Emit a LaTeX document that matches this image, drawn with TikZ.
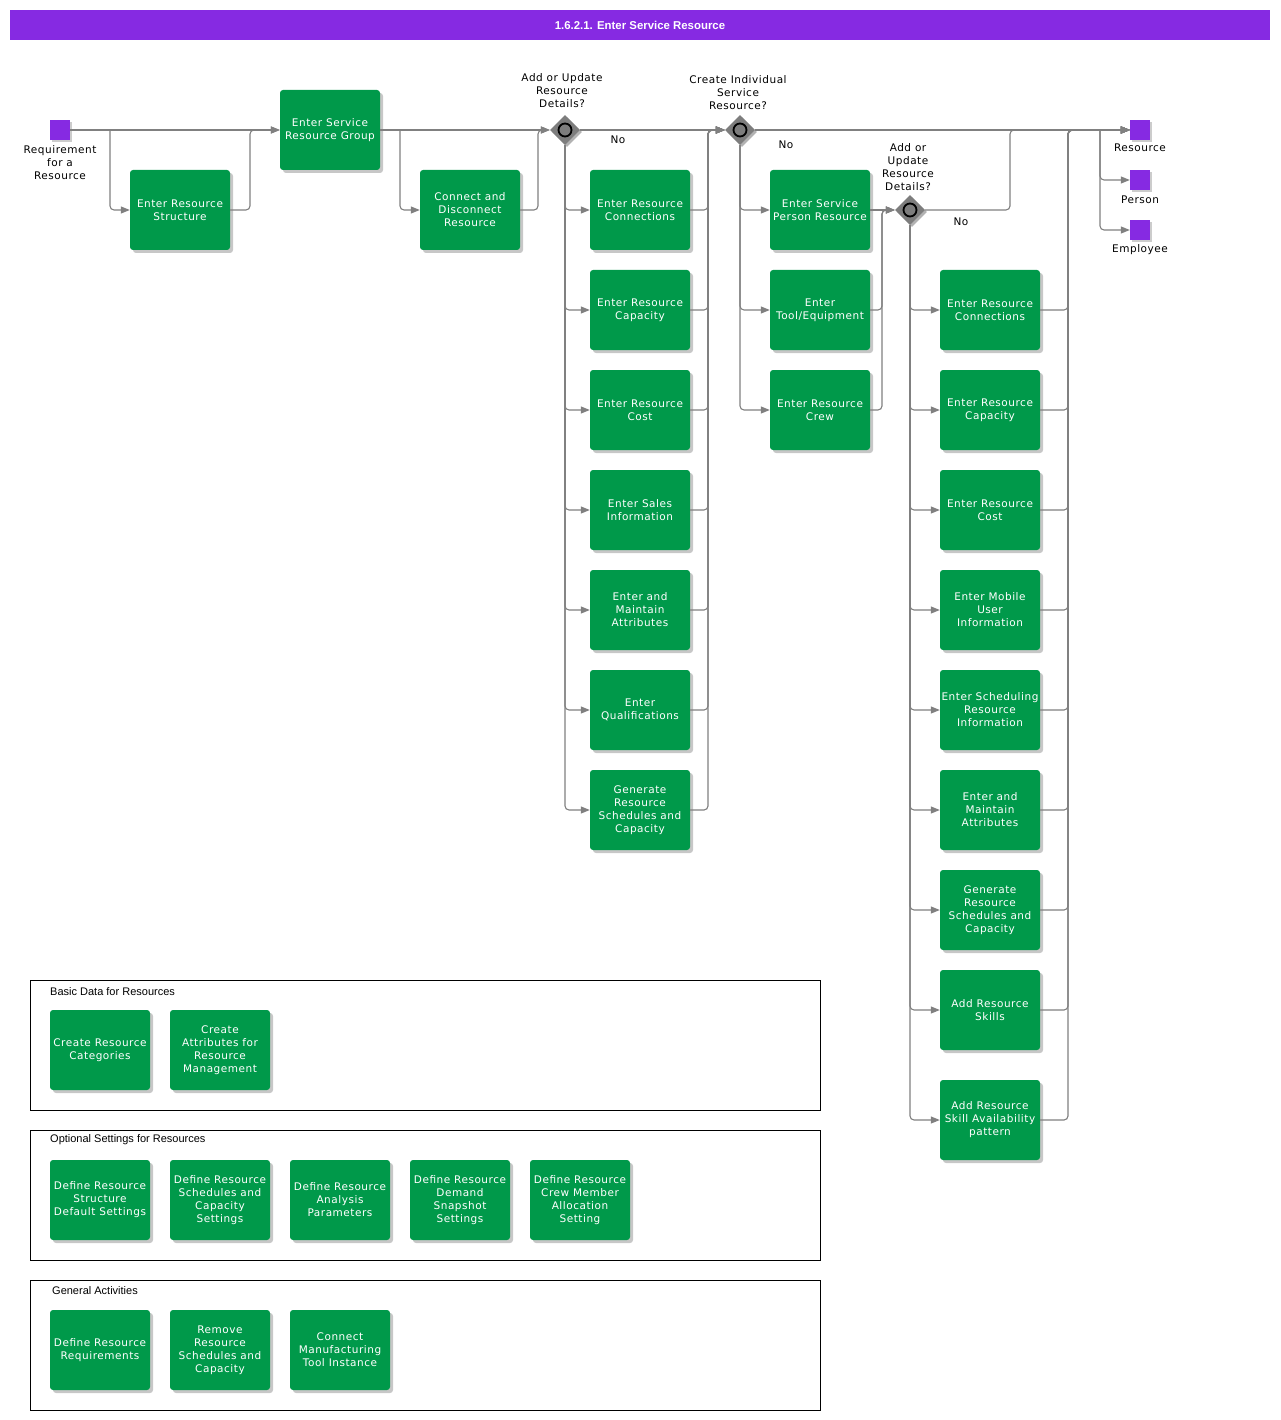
\documentclass[tikz,border=0pt]{standalone}
\usepackage{fontspec}
\setmainfont{DejaVu Sans}[LetterSpace=5]
\newfontfamily\arialf{Liberation Sans}
\usetikzlibrary{arrows.meta,shapes.geometric,shadows}
\definecolor{actgreen}{RGB}{0,153,74}
\definecolor{evpurple}{RGB}{134,42,226}
\definecolor{flowgray}{RGB}{128,128,128}
\definecolor{gwgray}{RGB}{125,125,125}
\tikzset{
  act/.style={fill=actgreen, rounded corners=3pt, minimum width=100pt, minimum height=80pt,
    text=white, align=center, font=\fontsize{10.5}{13}\selectfont, inner sep=0pt,
    drop shadow={shadow xshift=3pt, shadow yshift=-3pt, fill=black, opacity=0.22}},
  ev/.style={fill=evpurple, minimum size=20pt, inner sep=0pt,
    drop shadow={shadow xshift=2pt, shadow yshift=-2pt, fill=black, opacity=0.2}},
  gw/.style={diamond, fill=gwgray, minimum width=30pt, minimum height=30pt, inner sep=0pt,
    drop shadow={shadow xshift=2pt, shadow yshift=-2pt, fill=black, opacity=0.3}},
  gwring/.style={draw=black, line width=1.8pt, fill=gwgray},
  flow/.style={draw=flowgray, line width=1.1pt, rounded corners=4pt, -{Triangle[length=9pt,width=7pt]}},
  conn/.style={draw=flowgray, line width=1.1pt, rounded corners=4pt},
  lbl/.style={align=center, font=\fontsize{10.5}{13}\selectfont, inner sep=0pt},
  lanetitle/.style={anchor=west, font=\arialf\fontsize{11}{13}\selectfont, inner sep=0pt},
  lane/.style={draw=black, line width=0.9pt},
}
\begin{document}
\begin{tikzpicture}[x=1pt,y=-1pt]
\useasboundingbox (0,0) rectangle (1280,1420);
\fill[white] (0,0) rectangle (1280,1420);
% title
\node[fill=evpurple, minimum width=1260pt, minimum height=30pt, inner sep=0pt, text=white,
  font=\arialf\bfseries\fontsize{11.4}{13}\selectfont] (title) at (640,25) {1.6.2.1. Enter Service Resource};

% start event
\node[ev] (s) at (60,130) {};
\node[lbl] (sl) at (60,163) {Requirement\\for a\\Resource};

% first activities
\node[act] (b1) at (180,210) {Enter Resource\\Structure};
\node[act] (b2) at (330,130) {Enter Service\\Resource Group};
\node[act] (b3) at (470,210) {Connect and\\Disconnect\\Resource};

% gateways
\node[gw] (g1) at (565,130) {};
\draw[gwring] (g1.center) circle (6.5);
\node[lbl] (g1l) at (562,91) {Add or Update\\Resource\\Details?};
\node[gw] (g2) at (740,130) {};
\draw[gwring] (g2.center) circle (6.5);
\node[lbl] (g2l) at (738,93) {Create Individual\\Service\\Resource?};
\node[gw] (g3) at (910,210) {};
\draw[gwring] (g3.center) circle (6.5);
\node[lbl] (g3l) at (908,167) {Add or\\Update\\Resource\\Details?};

\node[lbl] (no1) at (618,140) {No};
\node[lbl] (no2) at (786,145) {No};
\node[lbl] (no3) at (961,222) {No};

% column c
\node[act] (c1) at (640,210) {Enter Resource\\Connections};
\node[act] (c2) at (640,310) {Enter Resource\\Capacity};
\node[act] (c3) at (640,410) {Enter Resource\\Cost};
\node[act] (c4) at (640,510) {Enter Sales\\Information};
\node[act] (c5) at (640,610) {Enter and\\Maintain\\Attributes};
\node[act] (c6) at (640,710) {Enter\\Qualifications};
\node[act] (c7) at (640,810) {Generate\\Resource\\Schedules and\\Capacity};

% column p
\node[act] (p1) at (820,210) {Enter Service\\Person Resource};
\node[act] (p2) at (820,310) {Enter\\Tool/Equipment};
\node[act] (p3) at (820,410) {Enter Resource\\Crew};

% column d
\node[act] (d1) at (990,310) {Enter Resource\\Connections};
\node[act] (d2) at (990,410) {Enter Resource\\Capacity};
\node[act] (d3) at (990,510) {Enter Resource\\Cost};
\node[act] (d4) at (990,610) {Enter Mobile\\User\\Information};
\node[act] (d5) at (990,710) {Enter Scheduling\\Resource\\Information};
\node[act] (d6) at (990,810) {Enter and\\Maintain\\Attributes};
\node[act] (d7) at (990,910) {Generate\\Resource\\Schedules and\\Capacity};
\node[act] (d8) at (990,1010) {Add Resource\\Skills};
\node[act] (d9) at (990,1120) {Add Resource\\Skill Availability\\pattern};

% end events
\node[ev] (e1) at (1140,130) {};
\node[lbl] (e1l) at (1140,148) {Resource};
\node[ev] (e2) at (1140,180) {};
\node[lbl] (e2l) at (1140,200) {Person};
\node[ev] (e3) at (1140,230) {};
\node[lbl] (e3l) at (1140,250) {Employee};

% junction coordinates
\coordinate (j1) at (110,130);
\coordinate (j2) at (250,130);
\coordinate (j3) at (400,130);
\coordinate (j4) at (538,130);
\coordinate (j5) at (708,130);
\coordinate (j6) at (882,210);
\coordinate (j7) at (1010,130);
\coordinate (j8) at (1068,130);
\coordinate (j9) at (1100,130);

% connectors
\draw[flow] (s.east) -- (b2.west);
\draw[flow] (j1) |- (b1.west);
\draw[flow] (b1.east) -| (j2) -- (b2.west);
\draw[flow] (b2.east) -- (g1.west);
\draw[flow] (j3) |- (b3.west);
\draw[flow] (b3.east) -| (j4) -- (g1.west);
\draw[flow] (g1.east) -- (g2.west);
\foreach \n in {c1,c2,c3,c4,c5,c6,c7}{
  \draw[flow] (g1.south) |- (\n.west);
  \draw[flow] (\n.east) -| (j5) -- (g2.west);
}
\draw[flow] (g2.east) -- (e1.west);
\foreach \n in {p1,p2,p3}{
  \draw[flow] (g2.south) |- (\n.west);
}
\draw[flow] (p1.east) -- (g3.west);
\draw[flow] (p2.east) -| (j6) -- (g3.west);
\draw[flow] (p3.east) -| (j6) -- (g3.west);
\draw[flow] (g3.east) -| (j7) -- (e1.west);
\foreach \n in {d1,d2,d3,d4,d5,d6,d7,d8,d9}{
  \draw[flow] (g3.south) |- (\n.west);
  \draw[flow] (\n.east) -| (j8) -- (e1.west);
}
\draw[flow] (j9) |- (e2.west);
\draw[flow] (j9) |- (e3.west);

% lanes
\draw[lane] (30,980) rectangle (820,1110);
\node[lanetitle] (t1) at (50,992) {Basic Data for Resources};
\node[act] (a1) at (100,1050) {Create Resource\\Categories};
\node[act] (a2) at (220,1050) {Create\\Attributes for\\Resource\\Management};

\draw[lane] (30,1130) rectangle (820,1260);
\node[lanetitle] (t2) at (50,1140) {Optional Settings for Resources};
\node[act] (o1) at (100,1200) {Define Resource\\Structure\\Default Settings};
\node[act] (o2) at (220,1200) {Define Resource\\Schedules and\\Capacity\\Settings};
\node[act] (o3) at (340,1200) {Define Resource\\Analysis\\Parameters};
\node[act] (o4) at (460,1200) {Define Resource\\Demand\\Snapshot\\Settings};
\node[act] (o5) at (580,1200) {Define Resource\\Crew Member\\Allocation\\Setting};

\draw[lane] (30,1280) rectangle (820,1410);
\node[lanetitle] (t3) at (52,1291) {General Activities};
\node[act] (r1) at (100,1350) {Define Resource\\Requirements};
\node[act] (r2) at (220,1350) {Remove\\Resource\\Schedules and\\Capacity};
\node[act] (r3) at (340,1350) {Connect\\Manufacturing\\Tool Instance};
\end{tikzpicture}
\end{document}
